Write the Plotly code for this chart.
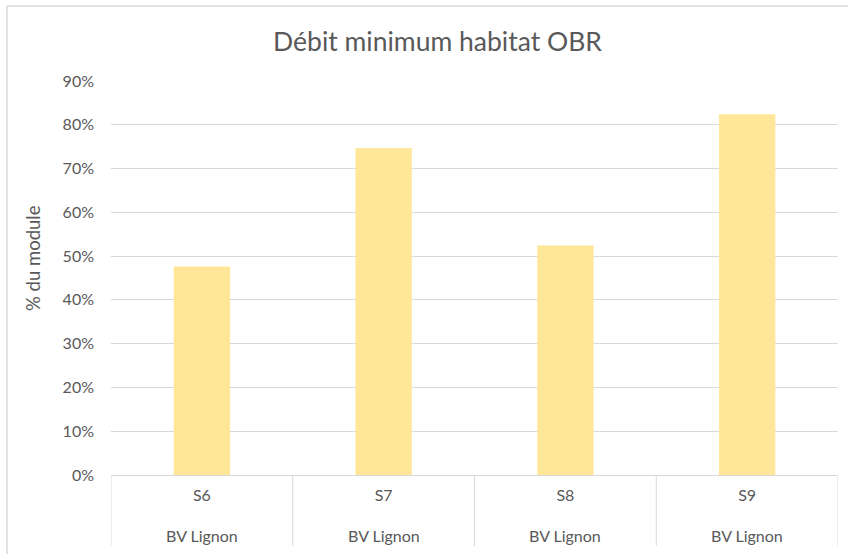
import plotly.graph_objects as go

# Data
stations = ["S6", "S7", "S8", "S9"]
basins = ["BV Lignon", "BV Lignon", "BV Lignon", "BV Lignon"]
debit_pct = [0.476, 0.747, 0.524, 0.824]
y_ticks = [0, 0.1, 0.2, 0.3, 0.4, 0.5, 0.6, 0.7, 0.8, 0.9]

W, H = 848, 554
L, R, T, B = 111, 10, 81, 79
plot_w = W - L - R
plot_h = H - T - B

TEXT = "#595959"
GRID = "#d9d9d9"
FONT = "Lato, 'Open Sans', sans-serif"
TICK_SIZE = 16

fig = go.Figure(
    go.Bar(
        x=stations,
        y=debit_pct,
        marker=dict(color="#FFE699", line=dict(width=0)),
        hoverinfo="skip",
    )
)

px = lambda v: (v - L) / plot_w
py = lambda v: (H - B - v) / plot_h

shapes = []
# category separators below the axis
for i in range(len(stations) + 1):
    shapes.append(dict(
        type="line", xref="x", yref="paper",
        x0=i - 0.5, x1=i - 0.5, y0=0, y1=py(546),
        line=dict(color=GRID, width=1),
    ))

# chart area frame (left and top edges)
shapes.append(dict(type="line", xref="paper", yref="paper",
                   x0=px(7), x1=px(7), y0=py(6), y1=py(560),
                   line=dict(color=GRID, width=1.5)))
shapes.append(dict(type="line", xref="paper", yref="paper",
                   x0=px(7), x1=px(860), y0=py(6), y1=py(6),
                   line=dict(color=GRID, width=1.5)))

annotations = [
    dict(x=s, y=py(535), xref="x", yref="paper",
         yanchor="middle", xanchor="center",
         text=b, showarrow=False, font=dict(family=FONT, size=TICK_SIZE, color=TEXT))
    for s, b in zip(stations, basins)
]
# value axis title
annotations.append(dict(
    x=px(33), y=py(258), xref="paper", yref="paper",
    xanchor="center", yanchor="middle", textangle=-90,
    text="% du module", showarrow=False,
    font=dict(family=FONT, size=18.5, color=TEXT),
))

fig.update_layout(
    width=W, height=H,
    margin=dict(l=L, r=R, t=T, b=B),
    paper_bgcolor="white",
    plot_bgcolor="white",
    bargap=0.69,
    showlegend=False,
    font=dict(family=FONT, color=TEXT, size=TICK_SIZE),
    title=dict(
        text="Débit minimum habitat OBR",
        x=437.5 / W, xanchor="center",
        y=1 - 42 / H, yanchor="middle",
        font=dict(family=FONT, size=26.5, color=TEXT),
    ),
    xaxis=dict(
        type="category",
        showgrid=False,
        showline=True, linecolor=GRID, linewidth=1,
        ticks="", ticklabelstandoff=6,
        tickfont=dict(family=FONT, size=TICK_SIZE, color=TEXT),
        range=[-0.5, len(stations) - 0.5],
        fixedrange=True,
    ),
    yaxis=dict(
        range=[0, 0.9],
        tickvals=y_ticks,
        tickformat=".0%",
        showgrid=True, gridcolor=GRID, gridwidth=1.3,
        zeroline=False,
        ticks="", ticklabelstandoff=16,
        tickfont=dict(family=FONT, size=TICK_SIZE, color=TEXT),
        fixedrange=True,
    ),
    shapes=shapes,
    annotations=annotations,
)

fig.write_html("out.html")
